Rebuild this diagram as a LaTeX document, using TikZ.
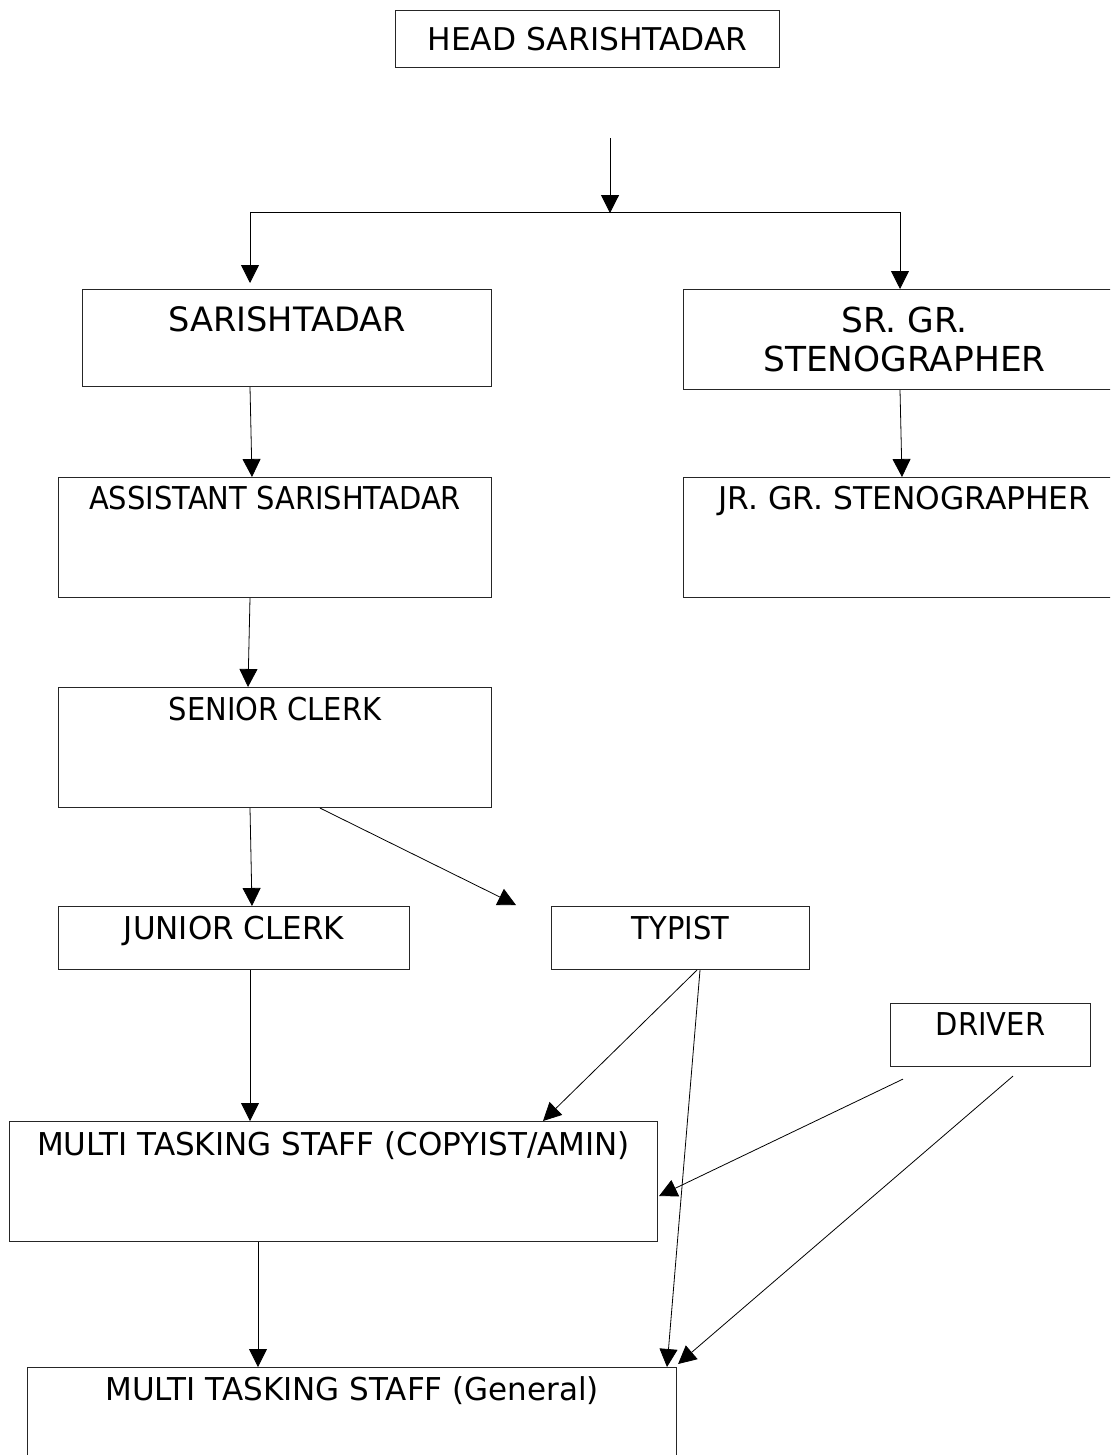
\documentclass[tikz,border=0pt]{standalone}
\usepackage{fontspec}
\setmainfont{DejaVu Sans}
\newfontfamily\condfont{DejaVu Sans}[FakeStretch=0.92]
\newfontfamily\semicondfont{DejaVu Sans}[FakeStretch=0.985]
\usetikzlibrary{arrows.meta,calc}
\begin{document}
\begin{tikzpicture}[x=0.75pt,y=-0.75pt,
  box/.style={draw=black!85,line width=0.8pt,inner sep=0pt,anchor=north west,align=center},
  bigtxt/.style={font=\fontsize{25.2}{29}\selectfont},
  midtxt/.style={font=\fontsize{23.5}{28}\selectfont},
  condtxt/.style={font=\condfont\fontsize{23.6}{28}\selectfont},
  scondtxt/.style={font=\semicondfont\fontsize{23.6}{28}\selectfont},
  arr/.style={-{Triangle[width=13.5pt,length=13.5pt]},line width=0.6pt},
  ln/.style={line width=0.6pt}]
\useasboundingbox (0,0) rectangle (1110,1455);
\clip (0,0) rectangle (1110,1455);
\fill[white] (0,0) rectangle (1110,1455);

% boxes
\node[box,midtxt,minimum width=288pt,text height=30pt,text depth=12.75pt] (head) at (395,10) {HEAD SARISHTADAR};
\node[box,bigtxt,minimum width=306.75pt,text height=31.5pt,text depth=41.25pt] (sar) at (82,289) {SARISHTADAR};
\node[box,font=\fontsize{25.8}{29.25}\selectfont,minimum width=331.5pt,minimum height=75pt] (srgr) at (683,289) {SR. GR.\\STENOGRAPHER};
\node[box,condtxt,minimum width=324.75pt,text height=24pt,text depth=66pt] (asst) at (58,477) {ASSISTANT SARISHTADAR};
\node[box,midtxt,minimum width=331.5pt,text height=24pt,text depth=66pt] (jr) at (683,477) {JR. GR. STENOGRAPHER};
\node[box,condtxt,minimum width=324.75pt,text height=24.75pt,text depth=65.25pt] (senior) at (58,687) {SENIOR CLERK};
\node[box,scondtxt,minimum width=263.25pt,text height=24.75pt,text depth=22.5pt] (junior) at (58,906) {JUNIOR CLERK};
\node[box,condtxt,minimum width=193.5pt,text height=24.75pt,text depth=22.5pt] (typist) at (551,906) {TYPIST};
\node[box,condtxt,minimum width=150pt,text height=24pt,text depth=23.25pt] (driver) at (890,1003) {DRIVER};
\node[box,scondtxt,minimum width=486pt,text height=25.5pt,text depth=64.5pt] (mtsc) at (9,1121) {MULTI TASKING STAFF (COPYIST/AMIN)};
\node[box,scondtxt,minimum width=486.75pt,text height=24.75pt,text depth=65.25pt] (mtsg) at (27,1367) {MULTI TASKING STAFF (General)};

% top distribution
\coordinate (hs) at ($(head.south west)+(215,70)$);
\coordinate (jc) at ($(head.south west)+(215,145)$);
\coordinate (jl) at ($(sar.north west)+(168,-77)$);
\coordinate (jrr) at ($(srgr.north west)+(217,-77)$);
\draw[arr] (hs) -- (jc);
\draw[ln] (jl) -- (jrr);
\draw[arr] (jl) -- ($(sar.north west)+(168,-6)$);
\draw[arr] (jrr) -- ($(srgr.north west)+(217,0)$);

% hierarchy connectors
\draw[arr] ($(sar.south west)+(168,0)$) -- ($(asst.north west)+(194,0)$);
\draw[arr] ($(srgr.south west)+(217,0)$) -- ($(jr.north west)+(219,0)$);
\draw[arr] ($(asst.south west)+(192,0)$) -- ($(senior.north west)+(190,0)$);
\draw[arr] ($(senior.south west)+(192,0)$) -- ($(junior.north west)+(194,0)$);
\draw[arr] ($(senior.south west)+(262,0)$) -- ($(typist.north west)+(-35,-1)$);
\draw[arr] ($(junior.south west)+(192,0)$) -- ($(mtsc.north west)+(241,0)$);
\draw[arr] ($(typist.south west)+(146,0)$) -- ($(mtsc.north west)+(534,0)$);
\draw[arr] ($(typist.south west)+(149,0)$) -- ($(mtsg.north west)+(640,0)$);
\draw[arr] ($(driver.south west)+(13,12)$) -- ($(mtsc.north east)+(1,75)$);
\draw[arr] ($(driver.south west)+(123,9)$) -- ($(mtsg.north east)+(1,-3)$);
\draw[arr] ($(mtsc.south west)+(249,0)$) -- ($(mtsg.north west)+(231,0)$);
\end{tikzpicture}
\end{document}
